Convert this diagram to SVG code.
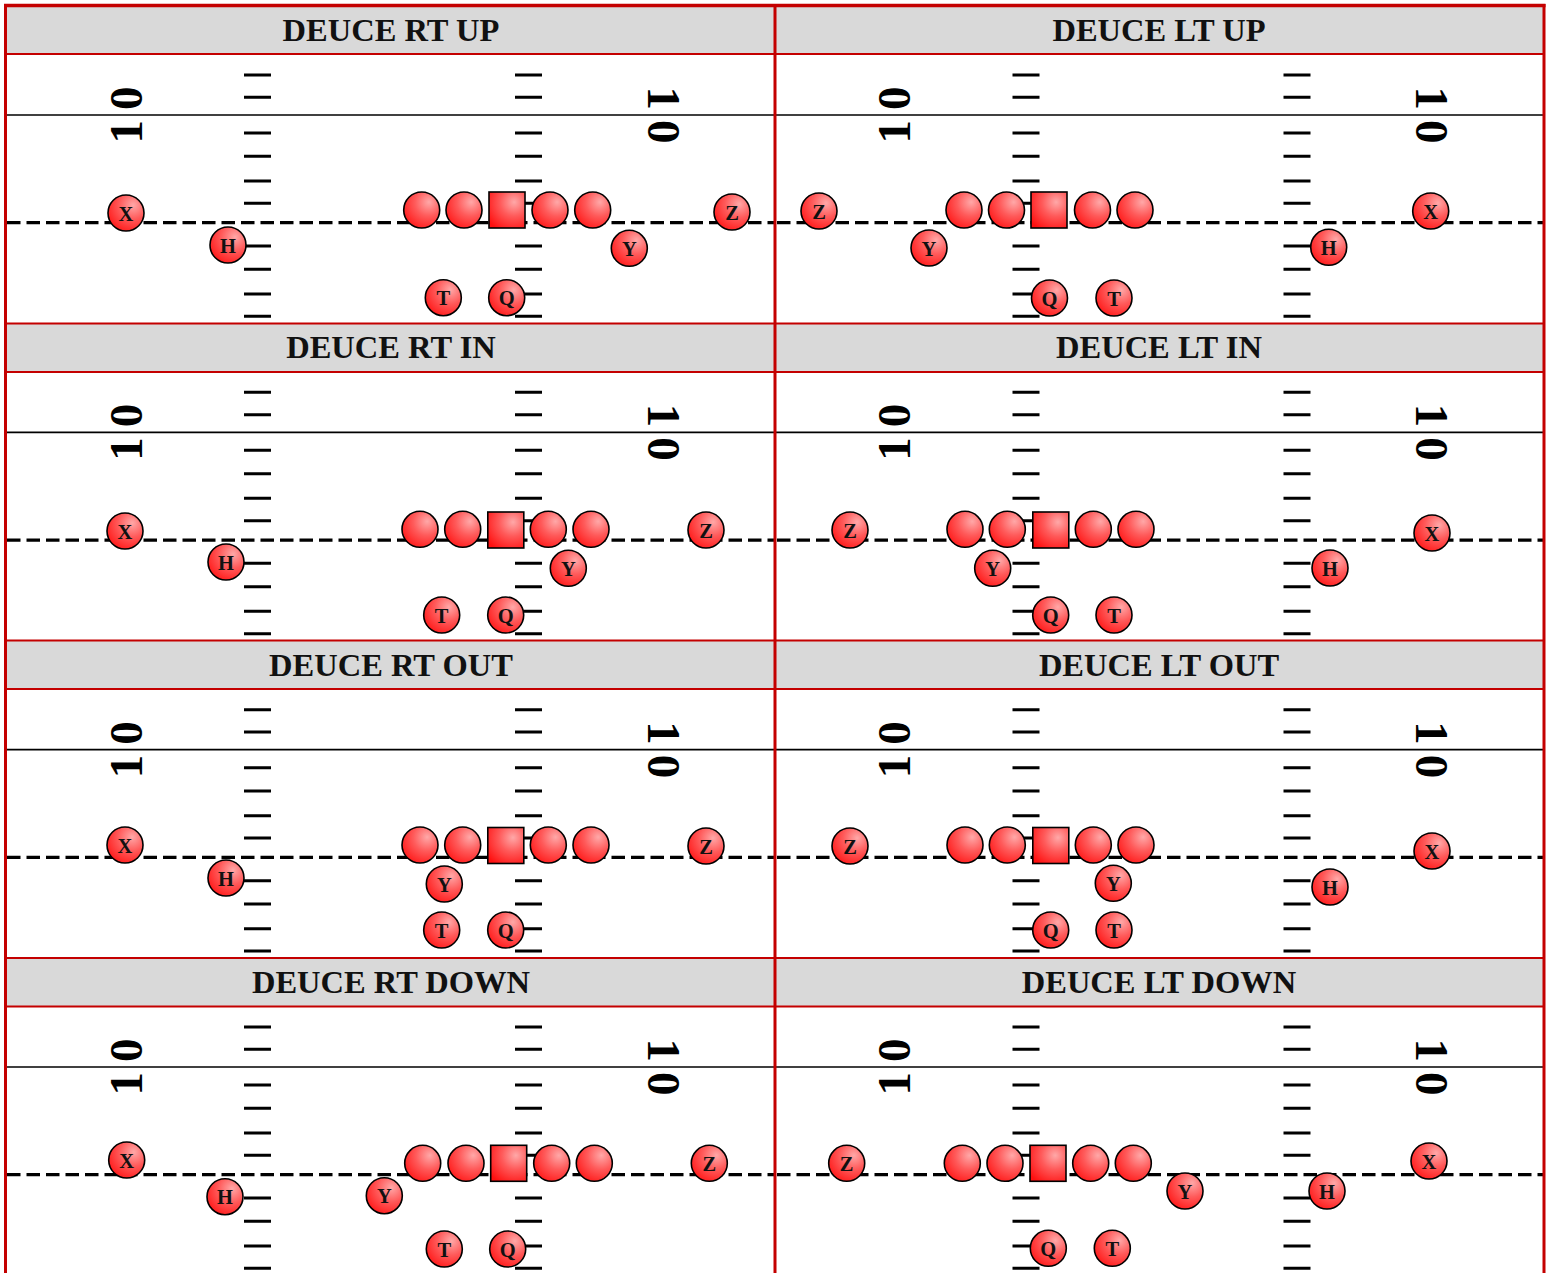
<svg xmlns="http://www.w3.org/2000/svg" xmlns:xlink="http://www.w3.org/1999/xlink" width="1551" height="1273" viewBox="0 0 1551 1273">
<defs>
<radialGradient id="rg" cx="0.68" cy="0.3" r="0.85" fx="0.7" fy="0.28">
<stop offset="0" stop-color="#ffa8a8"/>
<stop offset="0.45" stop-color="#ff5a5a"/>
<stop offset="1" stop-color="#ff1010"/>
</radialGradient>
<style>
.hdr{fill:#d9d9d9;stroke:#c40000;stroke-width:2}
.ttl{font-family:"Liberation Serif","Times New Roman",serif;font-weight:bold;font-size:32.5px;fill:#111;text-anchor:middle}
.fl{stroke:#000;stroke-width:1.6}
.los{stroke:#000;stroke-width:3.2;stroke-dasharray:13.5 6}
.hs{stroke:#000;stroke-width:3}
.num{font-family:"Liberation Serif","Times New Roman",serif;font-weight:bold;font-size:47px;fill:#000;text-anchor:middle}
.p{fill:url(#rg);stroke:#000;stroke-width:1.6}
.lb{font-family:"Liberation Serif","Times New Roman",serif;font-weight:bold;font-size:20.5px;fill:#111;text-anchor:middle}
.bd{stroke:#c40000;stroke-width:3;fill:none}
</style>
<g id="hashes">
<path class="hs" d="M244 75h27M244 97.3h27M244 133h27M244 156.3h27M244 181h27M244 203.3h27M244 246h27M244 269.3h27M244 294h27M244 316.3h27M515 75h27M515 97.3h27M515 133h27M515 156.3h27M515 181h27M515 203.3h27M515 246h27M515 269.3h27M515 294h27M515 316.3h27"/>
</g>
</defs>
<rect width="1551" height="1273" fill="#fff"/>

<g id="fields">
<g transform="translate(0,0)">
<line class="fl" x1="5" y1="115" x2="1544" y2="115"/>
<line class="los" x1="7" y1="222.7" x2="775" y2="222.7"/>
<line class="los" x1="777" y1="222.7" x2="1544" y2="222.7"/>
<use xlink:href="#hashes"/>
<use xlink:href="#hashes" transform="translate(768.5,0)"/>
<text class="num" transform="translate(142,115) rotate(-90)">1<tspan dx="10">0</tspan></text>
<text class="num" transform="translate(648,115) rotate(90)">1<tspan dx="10">0</tspan></text>
<text class="num" transform="translate(910,115) rotate(-90)">1<tspan dx="10">0</tspan></text>
<text class="num" transform="translate(1416,115) rotate(90)">1<tspan dx="10">0</tspan></text>
</g>
<g transform="translate(0,317.33)">
<line class="fl" x1="5" y1="115" x2="1544" y2="115"/>
<line class="los" x1="7" y1="222.7" x2="775" y2="222.7"/>
<line class="los" x1="777" y1="222.7" x2="1544" y2="222.7"/>
<use xlink:href="#hashes"/>
<use xlink:href="#hashes" transform="translate(768.5,0)"/>
<text class="num" transform="translate(142,115) rotate(-90)">1<tspan dx="10">0</tspan></text>
<text class="num" transform="translate(648,115) rotate(90)">1<tspan dx="10">0</tspan></text>
<text class="num" transform="translate(910,115) rotate(-90)">1<tspan dx="10">0</tspan></text>
<text class="num" transform="translate(1416,115) rotate(90)">1<tspan dx="10">0</tspan></text>
</g>
<g transform="translate(0,634.67)">
<line class="fl" x1="5" y1="115" x2="1544" y2="115"/>
<line class="los" x1="7" y1="222.7" x2="775" y2="222.7"/>
<line class="los" x1="777" y1="222.7" x2="1544" y2="222.7"/>
<use xlink:href="#hashes"/>
<use xlink:href="#hashes" transform="translate(768.5,0)"/>
<text class="num" transform="translate(142,115) rotate(-90)">1<tspan dx="10">0</tspan></text>
<text class="num" transform="translate(648,115) rotate(90)">1<tspan dx="10">0</tspan></text>
<text class="num" transform="translate(910,115) rotate(-90)">1<tspan dx="10">0</tspan></text>
<text class="num" transform="translate(1416,115) rotate(90)">1<tspan dx="10">0</tspan></text>
</g>
<g transform="translate(0,952)">
<line class="fl" x1="5" y1="115" x2="1544" y2="115"/>
<line class="los" x1="7" y1="222.7" x2="775" y2="222.7"/>
<line class="los" x1="777" y1="222.7" x2="1544" y2="222.7"/>
<use xlink:href="#hashes"/>
<use xlink:href="#hashes" transform="translate(768.5,0)"/>
<text class="num" transform="translate(142,115) rotate(-90)">1<tspan dx="10">0</tspan></text>
<text class="num" transform="translate(648,115) rotate(90)">1<tspan dx="10">0</tspan></text>
<text class="num" transform="translate(910,115) rotate(-90)">1<tspan dx="10">0</tspan></text>
<text class="num" transform="translate(1416,115) rotate(90)">1<tspan dx="10">0</tspan></text>
</g>
</g>

<g id="headers">
<rect class="hdr" x="5.5" y="5.5" width="769.5" height="48.5"/>
<rect class="hdr" x="775" y="5.5" width="769" height="48.5"/>
<rect class="hdr" x="5.5" y="323.5" width="769.5" height="48.5"/>
<rect class="hdr" x="775" y="323.5" width="769" height="48.5"/>
<rect class="hdr" x="5.5" y="640.5" width="769.5" height="48.5"/>
<rect class="hdr" x="775" y="640.5" width="769" height="48.5"/>
<rect class="hdr" x="5.5" y="958" width="769.5" height="48.5"/>
<rect class="hdr" x="775" y="958" width="769" height="48.5"/>
<text class="ttl" x="391" y="41">DEUCE RT UP</text>
<text class="ttl" x="1159" y="41">DEUCE LT UP</text>
<text class="ttl" x="391" y="358.3">DEUCE RT IN</text>
<text class="ttl" x="1159" y="358.3">DEUCE LT IN</text>
<text class="ttl" x="391" y="675.7">DEUCE RT OUT</text>
<text class="ttl" x="1159" y="675.7">DEUCE LT OUT</text>
<text class="ttl" x="391" y="993">DEUCE RT DOWN</text>
<text class="ttl" x="1159" y="993">DEUCE LT DOWN</text>
</g>

<g id="borders">
<line class="bd" x1="5.5" y1="4" x2="5.5" y2="1273"/>
<line class="bd" x1="775" y1="4" x2="775" y2="1273"/>
<line class="bd" x1="1544" y1="4" x2="1544" y2="1273"/>
<line class="bd" x1="4" y1="5.5" x2="1545.5" y2="5.5" style="stroke-width:3.5"/>
</g>

<g id="p1">
<g id="p1-ol"><circle class="p" cx="421.7" cy="210" r="18"/><circle class="p" cx="464" cy="210" r="18"/><rect class="p" x="489" y="192" width="36" height="36"/><circle class="p" cx="550" cy="210" r="18"/><circle class="p" cx="592.7" cy="210" r="18"/></g>
<g id="p1-x"><circle class="p" cx="126" cy="213" r="18"/><text class="lb" x="126" y="220.5">X</text></g>
<g id="p1-h"><circle class="p" cx="228" cy="245" r="18"/><text class="lb" x="228" y="252.5">H</text></g>
<g id="p1-z"><circle class="p" cx="732" cy="212" r="18"/><text class="lb" x="732" y="219.5">Z</text></g>
<g id="p1-y"><circle class="p" cx="629.3" cy="248.3" r="18"/><text class="lb" x="629.3" y="255.8">Y</text></g>
<g id="p1-t"><circle class="p" cx="443.3" cy="297.7" r="18"/><text class="lb" x="443.3" y="305.2">T</text></g>
<g id="p1-q"><circle class="p" cx="506.7" cy="297.7" r="18"/><text class="lb" x="506.7" y="305.2">Q</text></g>
</g>

<g id="p2">
<g id="p2-ol"><circle class="p" cx="964" cy="210" r="18"/><circle class="p" cx="1006.5" cy="210" r="18"/><rect class="p" x="1031" y="192" width="36" height="36"/><circle class="p" cx="1092.5" cy="210" r="18"/><circle class="p" cx="1135" cy="210" r="18"/></g>
<g id="p2-z"><circle class="p" cx="819" cy="211" r="18"/><text class="lb" x="819" y="218.5">Z</text></g>
<g id="p2-y"><circle class="p" cx="929" cy="248" r="18"/><text class="lb" x="929" y="255.5">Y</text></g>
<g id="p2-x"><circle class="p" cx="1430.7" cy="211" r="18"/><text class="lb" x="1430.7" y="218.5">X</text></g>
<g id="p2-h"><circle class="p" cx="1328.7" cy="247.3" r="18"/><text class="lb" x="1328.7" y="254.8">H</text></g>
<g id="p2-q"><circle class="p" cx="1049.5" cy="298" r="18"/><text class="lb" x="1049.5" y="305.5">Q</text></g>
<g id="p2-t"><circle class="p" cx="1114" cy="298" r="18"/><text class="lb" x="1114" y="305.5">T</text></g>
</g>

<g id="p3">
<g id="p3-ol"><circle class="p" cx="420" cy="529.3" r="18"/><circle class="p" cx="462.7" cy="529.3" r="18"/><rect class="p" x="487.8" y="512" width="36" height="36"/><circle class="p" cx="548.3" cy="529.3" r="18"/><circle class="p" cx="591" cy="529.3" r="18"/></g>
<g id="p3-x"><circle class="p" cx="125" cy="531" r="18"/><text class="lb" x="125" y="538.5">X</text></g>
<g id="p3-h"><circle class="p" cx="226" cy="562" r="18"/><text class="lb" x="226" y="569.5">H</text></g>
<g id="p3-z"><circle class="p" cx="706" cy="530" r="18"/><text class="lb" x="706" y="537.5">Z</text></g>
<g id="p3-y"><circle class="p" cx="568.3" cy="568.3" r="18"/><text class="lb" x="568.3" y="575.8">Y</text></g>
<g id="p3-t"><circle class="p" cx="441.7" cy="615" r="18"/><text class="lb" x="441.7" y="622.5">T</text></g>
<g id="p3-q"><circle class="p" cx="505.7" cy="615" r="18"/><text class="lb" x="505.7" y="622.5">Q</text></g>
</g>

<g id="p4">
<g id="p4-ol"><circle class="p" cx="965" cy="529.3" r="18"/><circle class="p" cx="1007.3" cy="529.3" r="18"/><rect class="p" x="1032.8" y="512" width="36" height="36"/><circle class="p" cx="1093.3" cy="529.3" r="18"/><circle class="p" cx="1136" cy="529.3" r="18"/></g>
<g id="p4-z"><circle class="p" cx="850" cy="530" r="18"/><text class="lb" x="850" y="537.5">Z</text></g>
<g id="p4-y"><circle class="p" cx="992.7" cy="568.3" r="18"/><text class="lb" x="992.7" y="575.8">Y</text></g>
<g id="p4-x"><circle class="p" cx="1432" cy="533" r="18"/><text class="lb" x="1432" y="540.5">X</text></g>
<g id="p4-h"><circle class="p" cx="1330" cy="568" r="18"/><text class="lb" x="1330" y="575.5">H</text></g>
<g id="p4-q"><circle class="p" cx="1050.7" cy="615" r="18"/><text class="lb" x="1050.7" y="622.5">Q</text></g>
<g id="p4-t"><circle class="p" cx="1114" cy="615" r="18"/><text class="lb" x="1114" y="622.5">T</text></g>
</g>

<g id="p5">
<g id="p5-ol"><circle class="p" cx="420" cy="845" r="18"/><circle class="p" cx="462.7" cy="845" r="18"/><rect class="p" x="487.8" y="827.5" width="36" height="36"/><circle class="p" cx="548.3" cy="845" r="18"/><circle class="p" cx="591" cy="845" r="18"/></g>
<g id="p5-x"><circle class="p" cx="125" cy="845" r="18"/><text class="lb" x="125" y="852.5">X</text></g>
<g id="p5-h"><circle class="p" cx="226" cy="878" r="18"/><text class="lb" x="226" y="885.5">H</text></g>
<g id="p5-z"><circle class="p" cx="706" cy="846" r="18"/><text class="lb" x="706" y="853.5">Z</text></g>
<g id="p5-y"><circle class="p" cx="444.3" cy="884" r="18"/><text class="lb" x="444.3" y="891.5">Y</text></g>
<g id="p5-t"><circle class="p" cx="441.7" cy="930" r="18"/><text class="lb" x="441.7" y="937.5">T</text></g>
<g id="p5-q"><circle class="p" cx="505.7" cy="930" r="18"/><text class="lb" x="505.7" y="937.5">Q</text></g>
</g>

<g id="p6">
<g id="p6-ol"><circle class="p" cx="965" cy="845" r="18"/><circle class="p" cx="1007.3" cy="845" r="18"/><rect class="p" x="1032.8" y="827.5" width="36" height="36"/><circle class="p" cx="1093.3" cy="845" r="18"/><circle class="p" cx="1136" cy="845" r="18"/></g>
<g id="p6-z"><circle class="p" cx="850" cy="846" r="18"/><text class="lb" x="850" y="853.5">Z</text></g>
<g id="p6-y"><circle class="p" cx="1113.3" cy="883.3" r="18"/><text class="lb" x="1113.3" y="890.8">Y</text></g>
<g id="p6-x"><circle class="p" cx="1432" cy="851" r="18"/><text class="lb" x="1432" y="858.5">X</text></g>
<g id="p6-h"><circle class="p" cx="1330" cy="887" r="18"/><text class="lb" x="1330" y="894.5">H</text></g>
<g id="p6-q"><circle class="p" cx="1050.7" cy="930" r="18"/><text class="lb" x="1050.7" y="937.5">Q</text></g>
<g id="p6-t"><circle class="p" cx="1114" cy="930" r="18"/><text class="lb" x="1114" y="937.5">T</text></g>
</g>

<g id="p7">
<g id="p7-ol"><circle class="p" cx="422.7" cy="1163.3" r="18"/><circle class="p" cx="466" cy="1163.3" r="18"/><rect class="p" x="490.7" y="1145.3" width="36" height="36"/><circle class="p" cx="551.7" cy="1163.3" r="18"/><circle class="p" cx="594.3" cy="1163.3" r="18"/></g>
<g id="p7-x"><circle class="p" cx="126.7" cy="1160" r="18"/><text class="lb" x="126.7" y="1167.5">X</text></g>
<g id="p7-h"><circle class="p" cx="225" cy="1196.7" r="18"/><text class="lb" x="225" y="1204.2">H</text></g>
<g id="p7-z"><circle class="p" cx="709.3" cy="1163.3" r="18"/><text class="lb" x="709.3" y="1170.8">Z</text></g>
<g id="p7-y"><circle class="p" cx="384.3" cy="1195.7" r="18"/><text class="lb" x="384.3" y="1203.2">Y</text></g>
<g id="p7-t"><circle class="p" cx="444.3" cy="1249" r="18"/><text class="lb" x="444.3" y="1256.5">T</text></g>
<g id="p7-q"><circle class="p" cx="507.7" cy="1249" r="18"/><text class="lb" x="507.7" y="1256.5">Q</text></g>
</g>

<g id="p8">
<g id="p8-ol"><circle class="p" cx="962.3" cy="1163.3" r="18"/><circle class="p" cx="1005" cy="1163.3" r="18"/><rect class="p" x="1030" y="1145.3" width="36" height="36"/><circle class="p" cx="1090.7" cy="1163.3" r="18"/><circle class="p" cx="1133.3" cy="1163.3" r="18"/></g>
<g id="p8-z"><circle class="p" cx="846.7" cy="1163.3" r="18"/><text class="lb" x="846.7" y="1170.8">Z</text></g>
<g id="p8-y"><circle class="p" cx="1185" cy="1191" r="18"/><text class="lb" x="1185" y="1198.5">Y</text></g>
<g id="p8-h"><circle class="p" cx="1327" cy="1191" r="18"/><text class="lb" x="1327" y="1198.5">H</text></g>
<g id="p8-x"><circle class="p" cx="1429" cy="1161" r="18"/><text class="lb" x="1429" y="1168.5">X</text></g>
<g id="p8-q"><circle class="p" cx="1048.3" cy="1248.3" r="18"/><text class="lb" x="1048.3" y="1255.8">Q</text></g>
<g id="p8-t"><circle class="p" cx="1112.3" cy="1248.3" r="18"/><text class="lb" x="1112.3" y="1255.8">T</text></g>
</g>

<g id="connectors"/>
</svg>
